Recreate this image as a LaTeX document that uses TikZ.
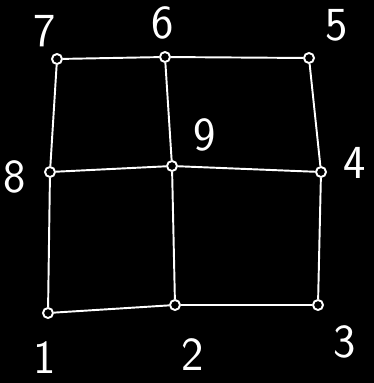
\documentclass[tikz,border=0pt]{standalone}
\usepackage{tikz}
\usetikzlibrary{positioning}

\begin{document}
\begin{tikzpicture}[
    x=0.02cm, y=-0.02cm,
    vtx/.style={circle, draw=white, line width=1.1pt, inner sep=0pt,
                minimum size=0.2cm},
    edge/.style={white, line width=1.1pt},
    num/.style={text=white, font=\sffamily\fontsize{27}{27}\selectfont},
  ]
    \fill[black] (0,0) rectangle (374,383);
    \useasboundingbox (0,0) rectangle (374,383);

    \node[vtx] (n7) at (57,59)   {};
    \node[vtx] (n6) at (165,57)  {};
    \node[vtx] (n5) at (309,58)  {};
    \node[vtx] (n8) at (50,172)  {};
    \node[vtx] (n9) at (172,166) {};
    \node[vtx] (n4) at (321,172) {};
    \node[vtx] (n1) at (48,313)  {};
    \node[vtx] (n2) at (175,305) {};
    \node[vtx] (n3) at (318,305) {};

    \draw[edge] (n7)--(n6);
    \draw[edge] (n6)--(n5);
    \draw[edge] (n8)--(n9);
    \draw[edge] (n9)--(n4);
    \draw[edge] (n1)--(n2);
    \draw[edge] (n2)--(n3);
    \draw[edge] (n7)--(n8);
    \draw[edge] (n8)--(n1);
    \draw[edge] (n6)--(n9);
    \draw[edge] (n9)--(n2);
    \draw[edge] (n5)--(n4);
    \draw[edge] (n4)--(n3);

    \node[num] (l7) at (45,31)   {7};
    \node[num] (l6) at (163,23)  {6};
    \node[num] (l5) at (337,25)  {5};
    \node[num] (l9) at (205,135) {9};
    \node[num] (l8) at (15,177)  {8};
    \node[num] (l4) at (355,163) {4};
    \node[num] (l1) at (45,358)  {1};
    \node[num] (l2) at (193,355) {2};
    \node[num] (l3) at (345,342) {3};
  \end{tikzpicture}
\end{document}
